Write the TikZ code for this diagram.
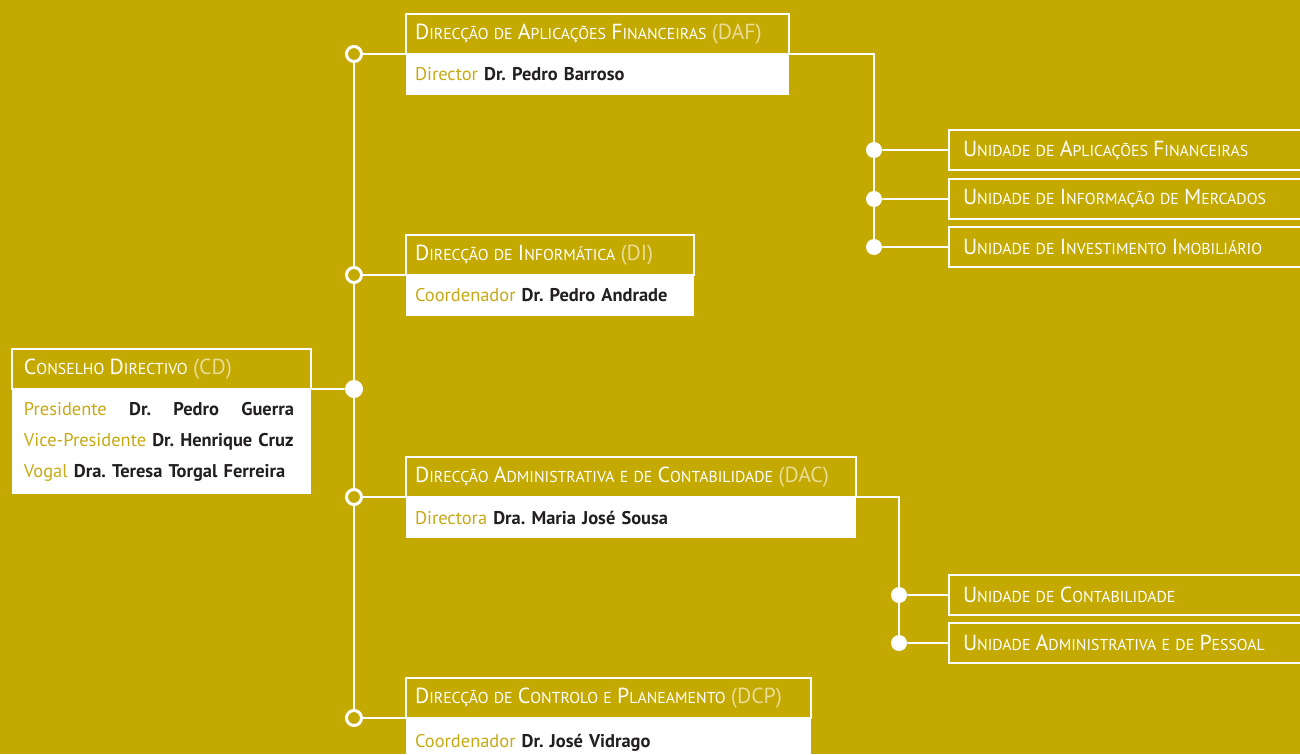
\documentclass[tikz,border=0pt]{standalone}
\usepackage{xcolor}
\usepackage{fontspec}
\setmainfont{PT Sans}
\usepackage{tikz}
\usetikzlibrary{positioning}
\definecolor{bgGold}{RGB}{196,169,0}
\definecolor{tagGold}{RGB}{233,220,150}
\definecolor{roleGold}{RGB}{198,170,20}
\definecolor{nameDark}{RGB}{35,31,32}
\newcommand{\Ini}[1]{{\fontsize{12.4}{13}\selectfont #1}}
\newcommand{\Tag}[1]{{\fontsize{12.4}{13}\selectfont\color{tagGold}#1}}
\frenchspacing

\begin{document}
\begin{tikzpicture}[
    x=0.02cm, y=-0.02cm,
    header/.style={rectangle, draw=white, line width=1.1pt, outer sep=0pt, anchor=north west, inner xsep=0.18cm, inner ysep=0pt,
        minimum height=0.8cm, text width=#1, align=left, text=white, font=\fontsize{9}{10}\selectfont},
    body/.style={rectangle, fill=white, outer sep=0pt, anchor=north west, inner xsep=0.18cm, inner ysep=0pt,
        minimum height=0.82cm, text width=#1, align=left, text=nameDark, font=\fontsize{10.5}{17.6}\selectfont},
    unit/.style={header=6.7cm, inner xsep=0.28cm},
    ring/.style={circle, draw=white, fill=bgGold, line width=1.7pt, minimum size=0.3cm, inner sep=0pt},
    dot/.style={circle, fill=white, minimum size=#1, inner sep=0pt},
    dot/.default=0.32cm,
    link/.style={draw=white, line width=1.1pt}
]
    % Page
    \useasboundingbox (0,0) rectangle (1300,754);
    \clip (0,0) rectangle (1300,754);
    \fill[bgGold] (0,0) rectangle (1300,754);

    % Conselho Directivo
    \node[header=5.5cm, inner xsep=0.24cm] (cdHead) at (12,349) {\Ini{C}ONSELHO \Ini{D}IRECTIVO \Tag{(CD)}};
    \node[body=5.5cm, inner xsep=0.24cm, minimum height=2.1cm] (cdBody) at (cdHead.south west)
        {\makebox[5.4cm]{{\color{roleGold}Presidente}\hfill\textbf{Dr.}\hfill\textbf{Pedro}\hfill\textbf{Guerra}}\\
         {\color{roleGold}Vice-Presidente} \textbf{Dr. Henrique Cruz}\\
         {\color{roleGold}Vogal} \textbf{Dra. Teresa Torgal Ferreira}};

    % Direccoes
    \node[header=7.3cm] (dafHead) at (406,14) {\Ini{D}IRECÇÃO DE \Ini{A}PLICAÇÕES \Ini{F}INANCEIRAS \Tag{(DAF)}};
    \node[body=7.3cm] (dafBody) at (dafHead.south west) {{\color{roleGold}Director} \textbf{Dr. Pedro Barroso}};

    \node[header=5.4cm] (diHead) at (406,235) {\Ini{D}IRECÇÃO DE \Ini{I}NFORMÁTICA \Tag{(DI)}};
    \node[body=5.4cm] (diBody) at (diHead.south west) {{\color{roleGold}Coordenador} \textbf{Dr. Pedro Andrade}};

    \node[header=8.64cm] (dacHead) at (406,457) {\Ini{D}IRECÇÃO \Ini{A}DMINISTRATIVA E DE \Ini{C}ONTABILIDADE \Tag{(DAC)}};
    \node[body=8.64cm] (dacBody) at (dacHead.south west) {{\color{roleGold}Directora} \textbf{Dra. Maria José Sousa}};

    \node[header=7.74cm] (dcpHead) at (406,678) {\Ini{D}IRECÇÃO DE \Ini{C}ONTROLO E \Ini{P}LANEAMENTO \Tag{(DCP)}};
    \node[body=7.74cm, minimum height=1cm] (dcpBody) at (dcpHead.south west) {{\color{roleGold}Coordenador} \textbf{Dr. José Vidrago}};

    % Unidades
    \node[unit] (uApl) at (949,130) {\Ini{U}NIDADE DE \Ini{A}PLICAÇÕES \Ini{F}INANCEIRAS};
    \node[unit] (uInf) at (949,179) {\Ini{U}NIDADE DE \Ini{I}NFORMAÇÃO DE \Ini{M}ERCADOS};
    \node[unit] (uImo) at (949,227) {\Ini{U}NIDADE DE \Ini{I}NVESTIMENTO \Ini{I}MOBILIÁRIO};
    \node[unit] (uCon) at (949,575) {\Ini{U}NIDADE DE \Ini{C}ONTABILIDADE};
    \node[unit] (uPes) at (949,623) {\Ini{U}NIDADE \Ini{A}DMINISTRATIVA E DE \Ini{P}ESSOAL};

    % Junctions
    \node[dot=0.36cm] (hub) at (354,389) {};
    \node[ring] (rDAF) at (354,54) {};
    \node[ring] (rDI) at (354,275) {};
    \node[ring] (rDAC) at (354,497) {};
    \node[ring] (rDCP) at (354,718) {};
    \node[dot] (dApl) at (874,150) {};
    \node[dot] (dInf) at (874,199) {};
    \node[dot] (dImo) at (874,247) {};
    \node[dot] (dCon) at (899,595) {};
    \node[dot] (dPes) at (899,643) {};

    % Lines - trunk
    \draw[link] (rDAF) -- (rDI) -- (hub) -- (rDAC) -- (rDCP);
    \draw[link] (cdHead.south east) -- (hub);
    \draw[link] (rDAF) -- (dafHead.south west);
    \draw[link] (rDI) -- (diHead.south west);
    \draw[link] (rDAC) -- (dacHead.south west);
    \draw[link] (rDCP) -- (dcpHead.south west);

    % Lines - DAF units
    \draw[link] (dafHead.south east) -| (dImo);
    \draw[link] (dApl) -- (uApl.west);
    \draw[link] (dInf) -- (uInf.west);
    \draw[link] (dImo) -- (uImo.west);

    % Lines - DAC units
    \draw[link] (dacHead.south east) -| (dPes);
    \draw[link] (dCon) -- (uCon.west);
    \draw[link] (dPes) -- (uPes.west);
\end{tikzpicture}
\end{document}
